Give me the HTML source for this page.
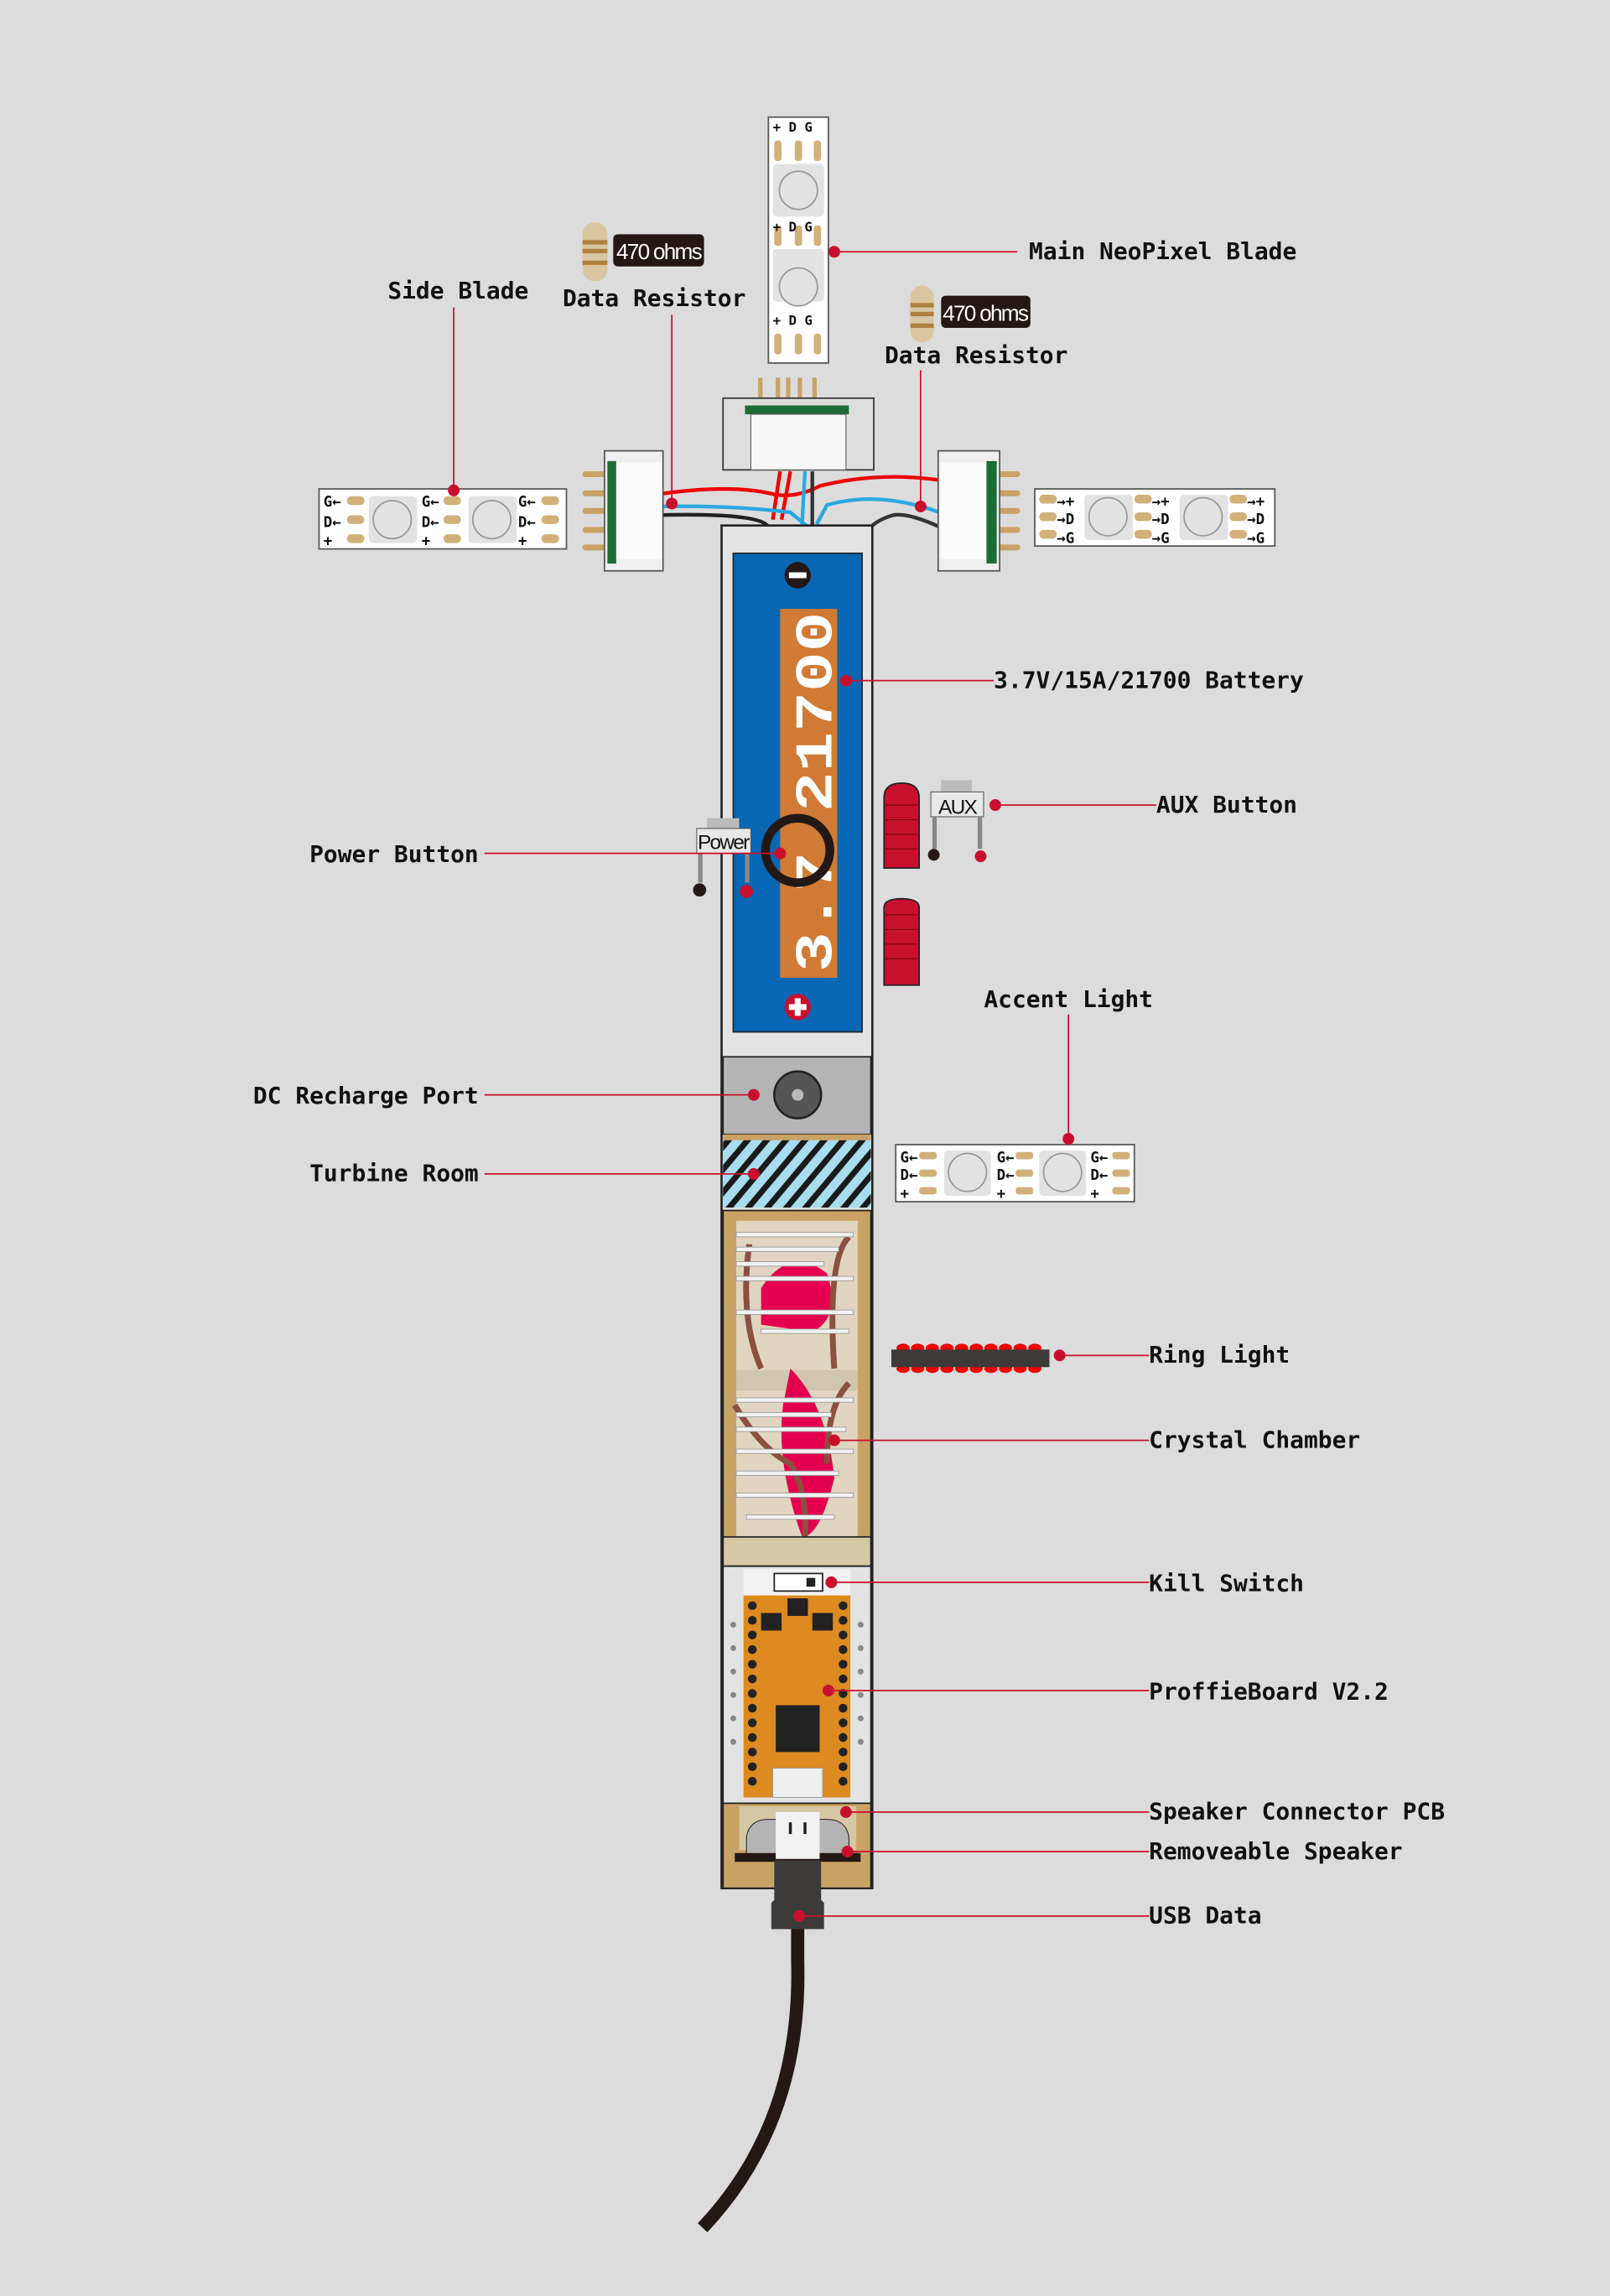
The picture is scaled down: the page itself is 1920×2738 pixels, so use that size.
<!DOCTYPE html>
<html><head><meta charset="utf-8"><style>
html,body{margin:0;padding:0;background:#dcdcdc;}
svg{display:block;}
text{font-family:"DejaVu Sans Mono","Liberation Mono",monospace;font-weight:bold;font-size:16px;fill:#111;}
.ln{stroke:#c8102e;stroke-width:1;fill:none;}
.dt{fill:#c8102e;}
</style></head><body>
<svg width="1920" height="2738" viewBox="0 0 1100 1568.6" xmlns="http://www.w3.org/2000/svg">
<defs>
<pattern id="hatch" width="10" height="10" patternUnits="userSpaceOnUse" patternTransform="rotate(40)">
<rect width="10" height="10" fill="#a8dcef"/><rect width="4" height="10" fill="#1a1a1a"/>
</pattern>
</defs>
<rect width="1100" height="1568.6" fill="#dcdcdc"/>

<!-- Main blade -->
<rect x="525" y="80" width="41" height="168" fill="#fff" stroke="#555" stroke-width="1"/>
<g fill="#d2b07a">
<rect x="529" y="96" width="5" height="14" rx="2"/><rect x="543" y="96" width="5" height="14" rx="2"/><rect x="556" y="96" width="5" height="14" rx="2"/>
<rect x="529" y="154" width="5" height="14" rx="2"/><rect x="543" y="154" width="5" height="14" rx="2"/><rect x="556" y="154" width="5" height="14" rx="2"/>
<rect x="529" y="228" width="5" height="14" rx="2"/><rect x="543" y="228" width="5" height="14" rx="2"/><rect x="556" y="228" width="5" height="14" rx="2"/>
</g>
<rect x="528" y="112" width="35" height="36" fill="#e2e2e2" rx="3"/><circle cx="545.5" cy="130" r="13" fill="#e2e2e2" stroke="#999"/>
<rect x="528" y="170" width="35" height="36" fill="#e2e2e2" rx="3"/><circle cx="545.5" cy="196" r="13" fill="#e2e2e2" stroke="#999"/>
<g><text x="528" y="90" style="font-size:9px">+ D G</text><text x="528" y="158" style="font-size:9px">+ D G</text><text x="528" y="222" style="font-size:9px">+ D G</text></g>

<!-- resistors -->
<rect x="398" y="152" width="17" height="40" rx="8" fill="#d9c6a0"/>
<rect x="398" y="164" width="17" height="3" fill="#b08040"/><rect x="398" y="170" width="17" height="3" fill="#b08040"/><rect x="398" y="178" width="17" height="3" fill="#b08040"/>
<rect x="419" y="160" width="62" height="22" rx="3" fill="#231815"/>
<text x="450" y="177" text-anchor="middle" style="font-family:'Liberation Sans',sans-serif;font-weight:normal;font-size:15px;fill:#fff;letter-spacing:-1px">470 ohms</text>
<rect x="622" y="195" width="16" height="39" rx="8" fill="#d9c6a0"/>
<rect x="622" y="207" width="16" height="3" fill="#b08040"/><rect x="622" y="213" width="16" height="3" fill="#b08040"/><rect x="622" y="221" width="16" height="3" fill="#b08040"/>
<rect x="643" y="202" width="61" height="22" rx="3" fill="#231815"/>
<text x="673" y="219" text-anchor="middle" style="font-family:'Liberation Sans',sans-serif;font-weight:normal;font-size:15px;fill:#fff;letter-spacing:-1px">470 ohms</text>

<!-- top connector -->
<g fill="#c9a265"><rect x="518" y="258" width="3" height="20"/><rect x="530" y="258" width="3" height="20"/><rect x="537" y="258" width="3" height="20"/><rect x="545" y="258" width="3" height="20"/><rect x="555" y="258" width="3" height="20"/></g>
<rect x="494" y="272" width="103" height="49" fill="#dedede" stroke="#333"/>
<rect x="509" y="277" width="71" height="6" fill="#1e6b35"/>
<rect x="513" y="283" width="65" height="38" fill="#f7f7f7" stroke="#555" stroke-width="0.6"/>

<!-- wires -->
<g fill="none" stroke-width="2.5">
<path d="M447 338 Q500 330 530 338 Q545 340 560 332 Q600 322 642 328" stroke="#e00"/>
<path d="M533 322 L528 355" stroke="#e00"/><path d="M540 322 L534 355" stroke="#e00"/>
<path d="M447 346 Q500 345 540 350 L552 360" stroke="#29a8e0"/>
<path d="M550 322 L548 358" stroke="#29a8e0"/>
<path d="M642 350 Q600 335 565 345 L558 358" stroke="#29a8e0"/>
<path d="M447 352 Q520 350 525 360" stroke="#222"/>
<path d="M555 322 L555 360" stroke="#333"/>
<path d="M642 360 Q620 350 610 352 Q600 355 595 360" stroke="#333"/>
</g>

<!-- left connector -->
<g fill="#c9a265"><rect x="398" y="322" width="17" height="4" rx="2"/><rect x="398" y="335" width="17" height="4" rx="2"/><rect x="398" y="347" width="17" height="4" rx="2"/><rect x="398" y="360" width="17" height="4" rx="2"/><rect x="398" y="372" width="17" height="4" rx="2"/></g>
<rect x="413" y="308" width="40" height="82" fill="#efefef" stroke="#555"/>
<rect x="420" y="316" width="32" height="66" fill="#fafafa"/>
<rect x="415" y="315" width="6" height="70" fill="#1e6b35"/>
<!-- right connector -->
<g fill="#c9a265"><rect x="681" y="322" width="16" height="4" rx="2"/><rect x="681" y="335" width="16" height="4" rx="2"/><rect x="681" y="347" width="16" height="4" rx="2"/><rect x="681" y="360" width="16" height="4" rx="2"/><rect x="681" y="372" width="16" height="4" rx="2"/></g>
<rect x="641" y="308" width="42" height="82" fill="#efefef" stroke="#555"/>
<rect x="642" y="316" width="32" height="66" fill="#fafafa"/>
<rect x="674" y="315" width="7" height="70" fill="#1e6b35"/>

<!-- side blades -->
<rect x="218" y="334" width="169" height="41" fill="#fff" stroke="#555"/>
<rect x="252" y="339" width="33" height="32" fill="#e2e2e2" rx="3"/><circle cx="268" cy="355" r="13" fill="#e2e2e2" stroke="#999"/>
<rect x="320" y="339" width="33" height="32" fill="#e2e2e2" rx="3"/><circle cx="336" cy="355" r="13" fill="#e2e2e2" stroke="#999"/>
<g fill="#d2b07a"><rect x="237" y="339" width="12" height="6" rx="3"/><rect x="237" y="352" width="12" height="6" rx="3"/><rect x="237" y="365" width="12" height="6" rx="3"/>
<rect x="303" y="339" width="12" height="6" rx="3"/><rect x="303" y="352" width="12" height="6" rx="3"/><rect x="303" y="365" width="12" height="6" rx="3"/>
<rect x="370" y="339" width="12" height="6" rx="3"/><rect x="370" y="352" width="12" height="6" rx="3"/><rect x="370" y="365" width="12" height="6" rx="3"/></g>
<g><text x="221" y="346" style="font-size:10px">G←</text><text x="221" y="360" style="font-size:10px">D←</text><text x="221" y="373" style="font-size:10px">+</text>
<text x="288" y="346" style="font-size:10px">G←</text><text x="288" y="360" style="font-size:10px">D←</text><text x="288" y="373" style="font-size:10px">+</text>
<text x="354" y="346" style="font-size:10px">G←</text><text x="354" y="360" style="font-size:10px">D←</text><text x="354" y="373" style="font-size:10px">+</text></g>

<rect x="707" y="334" width="164" height="39" fill="#fff" stroke="#555"/>
<rect x="741" y="338" width="33" height="31" fill="#e2e2e2" rx="3"/><circle cx="757" cy="353" r="13" fill="#e2e2e2" stroke="#999"/>
<rect x="806" y="338" width="33" height="31" fill="#e2e2e2" rx="3"/><circle cx="822" cy="353" r="13" fill="#e2e2e2" stroke="#999"/>
<g fill="#d2b07a"><rect x="710" y="338" width="12" height="6" rx="3"/><rect x="710" y="350" width="12" height="6" rx="3"/><rect x="710" y="362" width="12" height="6" rx="3"/>
<rect x="775" y="338" width="12" height="6" rx="3"/><rect x="775" y="350" width="12" height="6" rx="3"/><rect x="775" y="362" width="12" height="6" rx="3"/>
<rect x="840" y="338" width="12" height="6" rx="3"/><rect x="840" y="350" width="12" height="6" rx="3"/><rect x="840" y="362" width="12" height="6" rx="3"/></g>
<g><text x="722" y="346" style="font-size:10px">→+</text><text x="722" y="358" style="font-size:10px">→D</text><text x="722" y="371" style="font-size:10px">→G</text>
<text x="787" y="346" style="font-size:10px">→+</text><text x="787" y="358" style="font-size:10px">→D</text><text x="787" y="371" style="font-size:10px">→G</text>
<text x="852" y="346" style="font-size:10px">→+</text><text x="852" y="358" style="font-size:10px">→D</text><text x="852" y="371" style="font-size:10px">→G</text></g>

<!-- hilt: battery section -->
<rect x="493" y="359" width="103" height="931" fill="#e3e3e3" stroke="#222" stroke-width="1.5"/>
<rect x="501" y="378" width="88" height="327" fill="#0767b4" stroke="#222"/>
<rect x="533" y="416" width="39" height="252" fill="#d07a35"/>
<text transform="translate(568,664) rotate(-90)" textLength="246" lengthAdjust="spacingAndGlyphs" style="font-size:36px;fill:#fff;font-family:'Liberation Mono',monospace;font-weight:bold">3.7 21700</text>
<circle cx="545" cy="393" r="9" fill="#231815"/><rect x="539" y="391" width="12" height="4" fill="#fff"/>
<circle cx="545" cy="688" r="9" fill="#c8102e"/><rect x="539" y="686" width="12" height="4" fill="#fff"/><rect x="543" y="682" width="4" height="12" fill="#fff"/>
<circle cx="545" cy="581" r="22" fill="none" stroke="#231815" stroke-width="6"/>

<!-- power button -->
<rect x="483" y="559" width="22" height="8" fill="#bbb"/>
<rect x="476" y="566" width="37" height="17" fill="#e8e8e8" stroke="#555" stroke-width="0.6"/>
<text x="494" y="580" text-anchor="middle" style="font-family:'Liberation Sans',sans-serif;font-size:14px;letter-spacing:-1px;font-weight:normal">Power</text>
<rect x="477" y="583" width="3" height="20" fill="#888"/><rect x="509" y="583" width="3" height="20" fill="#888"/>
<circle cx="478" cy="608" r="4.5" fill="#231815"/><circle cx="510" cy="609" r="4.5" fill="#c8102e"/>

<!-- DC -->
<rect x="494" y="722" width="101" height="53" fill="#b5b5b5" stroke="#222"/>
<circle cx="545" cy="748" r="16" fill="#555" stroke="#222" stroke-width="1.5"/><circle cx="545" cy="748" r="4" fill="#bbb"/>
<rect x="494" y="775" width="101" height="4" fill="#c9a265"/>
<!-- Turbine -->
<rect x="494" y="779" width="101" height="46" fill="url(#hatch)"/>
<!-- crystal chamber -->
<rect x="494" y="827" width="101" height="243" fill="#c9a265" stroke="#222"/>
<rect x="503" y="834" width="83" height="216" fill="#e0d5c0"/>
<g fill="#d0c6b0"><rect x="503" y="936" width="83" height="14"/></g>
<path d="M520 880 Q540 850 565 870 Q575 900 555 910 L520 905 Z" fill="#e4004f"/>
<path d="M540 935 Q565 960 570 1010 Q560 1050 548 1050 Q530 1000 535 960 Z" fill="#e4004f"/>
<g fill="none" stroke="#8a5040" stroke-width="4">
<path d="M512 850 Q505 900 520 935"/><path d="M580 845 Q565 860 570 935"/>
<path d="M502 960 Q520 990 540 1000 Q552 1020 550 1050"/><path d="M580 945 Q565 960 565 1000"/>
</g>
<g fill="#f2f2f2" stroke="#999" stroke-width="0.5">
<rect x="503" y="842" width="80" height="3"/><rect x="503" y="852" width="70" height="3"/><rect x="503" y="862" width="60" height="3"/><rect x="503" y="872" width="80" height="3"/><rect x="503" y="895" width="80" height="3"/><rect x="520" y="908" width="60" height="3"/>
<rect x="503" y="955" width="80" height="3"/><rect x="503" y="965" width="65" height="3"/><rect x="503" y="975" width="75" height="3"/><rect x="503" y="990" width="80" height="3"/><rect x="503" y="1005" width="70" height="3"/><rect x="503" y="1020" width="80" height="3"/><rect x="510" y="1035" width="60" height="3"/>
</g>
<rect x="494" y="1050" width="101" height="20" fill="#d6c7a5" stroke="#222"/>
<!-- board section -->
<rect x="494" y="1070" width="101" height="162" fill="#e3e3e3" stroke="#222"/>
<rect x="508" y="1072" width="73" height="18" fill="#f2f2f2"/>
<rect x="529" y="1075" width="33" height="12" fill="#fff" stroke="#222"/><rect x="551" y="1078" width="6" height="6" fill="#222"/>
<rect x="508" y="1090" width="73" height="138" fill="#dd8a20"/>
<g fill="#222">
<circle cx="514" cy="1097" r="3"/><circle cx="514" cy="1107" r="3"/><circle cx="514" cy="1117" r="3"/><circle cx="514" cy="1127" r="3"/><circle cx="514" cy="1137" r="3"/><circle cx="514" cy="1147" r="3"/><circle cx="514" cy="1157" r="3"/><circle cx="514" cy="1167" r="3"/><circle cx="514" cy="1177" r="3"/><circle cx="514" cy="1187" r="3"/><circle cx="514" cy="1197" r="3"/><circle cx="514" cy="1207" r="3"/><circle cx="514" cy="1217" r="3"/>
<circle cx="576" cy="1097" r="3"/><circle cx="576" cy="1107" r="3"/><circle cx="576" cy="1117" r="3"/><circle cx="576" cy="1127" r="3"/><circle cx="576" cy="1137" r="3"/><circle cx="576" cy="1147" r="3"/><circle cx="576" cy="1157" r="3"/><circle cx="576" cy="1167" r="3"/><circle cx="576" cy="1177" r="3"/><circle cx="576" cy="1187" r="3"/><circle cx="576" cy="1197" r="3"/><circle cx="576" cy="1207" r="3"/><circle cx="576" cy="1217" r="3"/>
<rect x="538" y="1092" width="14" height="12"/><rect x="520" y="1102" width="14" height="12"/><rect x="555" y="1102" width="14" height="12"/>
<rect x="530" y="1165" width="30" height="32"/>
</g>
<rect x="528" y="1208" width="34" height="20" fill="#eee" stroke="#999" stroke-width="0.5"/>
<g fill="#888"><circle cx="501" cy="1110" r="2"/><circle cx="501" cy="1126" r="2"/><circle cx="501" cy="1142" r="2"/><circle cx="501" cy="1158" r="2"/><circle cx="501" cy="1174" r="2"/><circle cx="501" cy="1190" r="2"/>
<circle cx="588" cy="1110" r="2"/><circle cx="588" cy="1126" r="2"/><circle cx="588" cy="1142" r="2"/><circle cx="588" cy="1158" r="2"/><circle cx="588" cy="1174" r="2"/><circle cx="588" cy="1190" r="2"/></g>
<!-- speaker -->
<rect x="494" y="1232" width="101" height="58" fill="#c9a265" stroke="#222"/>
<rect x="505" y="1234" width="80" height="30" fill="#d6c7a5"/>
<path d="M510 1268 L510 1255 Q512 1243 525 1243 L565 1243 Q578 1243 580 1255 L580 1268 Z" fill="#b5b5b5" stroke="#222" stroke-width="0.6"/>
<rect x="502" y="1266" width="86" height="6" fill="#231815"/>
<rect x="530" y="1238" width="30" height="32" fill="#f2f2f2"/>
<rect x="539" y="1245" width="2" height="8" fill="#222"/><rect x="549" y="1245" width="2" height="8" fill="#222"/>
<!-- usb plug -->
<path d="M529 1271 L561 1271 L561 1298 L563 1300 L563 1318 L527 1318 L527 1300 L529 1298 Z" fill="#3d3a3a"/>
<path d="M545 1318 L545 1340 Q548 1450 480 1522" fill="none" stroke="#231815" stroke-width="9"/>

<!-- red buttons -->
<path d="M604 593 L604 545 Q604 535 616 535 Q628 535 628 545 L628 593 Z" fill="#c8102e" stroke="#222"/>
<path d="M604 673 L604 620 Q604 614 616 614 Q628 614 628 620 L628 673 Z" fill="#c8102e" stroke="#222"/>
<g stroke="#7a0000" stroke-width="0.6"><line x1="605" y1="550" x2="627" y2="550"/><line x1="605" y1="560" x2="627" y2="560"/><line x1="605" y1="570" x2="627" y2="570"/><line x1="605" y1="580" x2="627" y2="580"/>
<line x1="605" y1="625" x2="627" y2="625"/><line x1="605" y1="635" x2="627" y2="635"/><line x1="605" y1="645" x2="627" y2="645"/><line x1="605" y1="655" x2="627" y2="655"/></g>
<!-- AUX -->
<rect x="643" y="533" width="21" height="8" fill="#bbb"/>
<rect x="636" y="541" width="36" height="17" fill="#e8e8e8" stroke="#555" stroke-width="0.6"/>
<text x="654" y="556" text-anchor="middle" style="font-family:'Liberation Sans',sans-serif;font-size:14px;letter-spacing:-1px;font-weight:normal">AUX</text>
<rect x="637" y="558" width="3" height="22" fill="#888"/><rect x="668" y="558" width="3" height="22" fill="#888"/>
<circle cx="638" cy="584" r="4" fill="#231815"/><circle cx="670" cy="585" r="4" fill="#c8102e"/>

<!-- accent strip -->
<rect x="612" y="782" width="163" height="39" fill="#fff" stroke="#555"/>
<rect x="645" y="786" width="32" height="31" fill="#e2e2e2" rx="3"/><circle cx="661" cy="801" r="13" fill="#e2e2e2" stroke="#999"/>
<rect x="710" y="786" width="32" height="31" fill="#e2e2e2" rx="3"/><circle cx="726" cy="801" r="13" fill="#e2e2e2" stroke="#999"/>
<g fill="#d2b07a"><rect x="628" y="787" width="12" height="5" rx="2"/><rect x="628" y="799" width="12" height="5" rx="2"/><rect x="628" y="811" width="12" height="5" rx="2"/>
<rect x="694" y="787" width="12" height="5" rx="2"/><rect x="694" y="799" width="12" height="5" rx="2"/><rect x="694" y="811" width="12" height="5" rx="2"/>
<rect x="760" y="787" width="12" height="5" rx="2"/><rect x="760" y="799" width="12" height="5" rx="2"/><rect x="760" y="811" width="12" height="5" rx="2"/></g>
<g><text x="615" y="794" style="font-size:10px">G←</text><text x="615" y="806" style="font-size:10px">D←</text><text x="615" y="819" style="font-size:10px">+</text>
<text x="681" y="794" style="font-size:10px">G←</text><text x="681" y="806" style="font-size:10px">D←</text><text x="681" y="819" style="font-size:10px">+</text>
<text x="745" y="794" style="font-size:10px">G←</text><text x="745" y="806" style="font-size:10px">D←</text><text x="745" y="819" style="font-size:10px">+</text></g>

<!-- ring light -->
<g fill="#e00">
<ellipse cx="617" cy="921" rx="4.5" ry="3"/><ellipse cx="627" cy="921" rx="4.5" ry="3"/><ellipse cx="637" cy="921" rx="4.5" ry="3"/><ellipse cx="647" cy="921" rx="4.5" ry="3"/><ellipse cx="657" cy="921" rx="4.5" ry="3"/><ellipse cx="667" cy="921" rx="4.5" ry="3"/><ellipse cx="677" cy="921" rx="4.5" ry="3"/><ellipse cx="687" cy="921" rx="4.5" ry="3"/><ellipse cx="697" cy="921" rx="4.5" ry="3"/><ellipse cx="707" cy="921" rx="4.5" ry="3"/>
<ellipse cx="617" cy="935" rx="4.5" ry="3"/><ellipse cx="627" cy="935" rx="4.5" ry="3"/><ellipse cx="637" cy="935" rx="4.5" ry="3"/><ellipse cx="647" cy="935" rx="4.5" ry="3"/><ellipse cx="657" cy="935" rx="4.5" ry="3"/><ellipse cx="667" cy="935" rx="4.5" ry="3"/><ellipse cx="677" cy="935" rx="4.5" ry="3"/><ellipse cx="687" cy="935" rx="4.5" ry="3"/><ellipse cx="697" cy="935" rx="4.5" ry="3"/><ellipse cx="707" cy="935" rx="4.5" ry="3"/>
</g>
<rect x="609" y="922" width="108" height="12" fill="#3d3a3a"/>

<!-- leader lines -->
<line class="ln" x1="310" y1="210" x2="310" y2="335"/><circle class="dt" cx="310" cy="335" r="4"/>
<line class="ln" x1="459" y1="215" x2="459" y2="344"/><circle class="dt" cx="459" cy="344" r="4"/>
<line class="ln" x1="629" y1="253" x2="629" y2="346"/><circle class="dt" cx="629" cy="346" r="4"/>
<line class="ln" x1="570" y1="172" x2="695" y2="172"/><circle class="dt" cx="570" cy="172" r="4"/>
<line class="ln" x1="578" y1="465" x2="679" y2="465"/><circle class="dt" cx="578" cy="465" r="4"/>
<line class="ln" x1="680" y1="550" x2="790" y2="550"/><circle class="dt" cx="680" cy="550" r="4"/>
<line class="ln" x1="331" y1="583" x2="533" y2="583"/><circle class="dt" cx="533" cy="583" r="4"/>
<line class="ln" x1="730" y1="693" x2="730" y2="778"/><circle class="dt" cx="730" cy="778" r="4"/>
<line class="ln" x1="331" y1="748" x2="515" y2="748"/><circle class="dt" cx="515" cy="748" r="4"/>
<line class="ln" x1="331" y1="802" x2="515" y2="802"/><circle class="dt" cx="515" cy="802" r="4"/>
<line class="ln" x1="724" y1="926" x2="785" y2="926"/><circle class="dt" cx="724" cy="926" r="4"/>
<line class="ln" x1="570" y1="984" x2="785" y2="984"/><circle class="dt" cx="570" cy="984" r="4"/>
<line class="ln" x1="568" y1="1081" x2="785" y2="1081"/><circle class="dt" cx="568" cy="1081" r="4"/>
<line class="ln" x1="566" y1="1155" x2="785" y2="1155"/><circle class="dt" cx="566" cy="1155" r="4"/>
<line class="ln" x1="578" y1="1238" x2="785" y2="1238"/><circle class="dt" cx="578" cy="1238" r="4"/>
<line class="ln" x1="579" y1="1265" x2="785" y2="1265"/><circle class="dt" cx="579" cy="1265" r="4"/>
<line class="ln" x1="546" y1="1309" x2="785" y2="1309"/><circle class="dt" cx="546" cy="1309" r="4"/>

<!-- labels -->
<text x="313" y="204" text-anchor="middle">Side Blade</text>
<text x="447" y="209" text-anchor="middle">Data Resistor</text>
<text x="703" y="177">Main NeoPixel Blade</text>
<text x="667" y="248" text-anchor="middle">Data Resistor</text>
<text x="679" y="470">3.7V/15A/21700 Battery</text>
<text x="790" y="555">AUX Button</text>
<text x="327" y="589" text-anchor="end">Power Button</text>
<text x="730" y="688" text-anchor="middle">Accent Light</text>
<text x="327" y="754" text-anchor="end">DC Recharge Port</text>
<text x="327" y="807" text-anchor="end">Turbine Room</text>
<text x="785" y="931">Ring Light</text>
<text x="785" y="989">Crystal Chamber</text>
<text x="785" y="1087">Kill Switch</text>
<text x="785" y="1161">ProffieBoard V2.2</text>
<text x="785" y="1243">Speaker Connector PCB</text>
<text x="785" y="1270">Removeable Speaker</text>
<text x="785" y="1314">USB Data</text>
</svg>
</body></html>
